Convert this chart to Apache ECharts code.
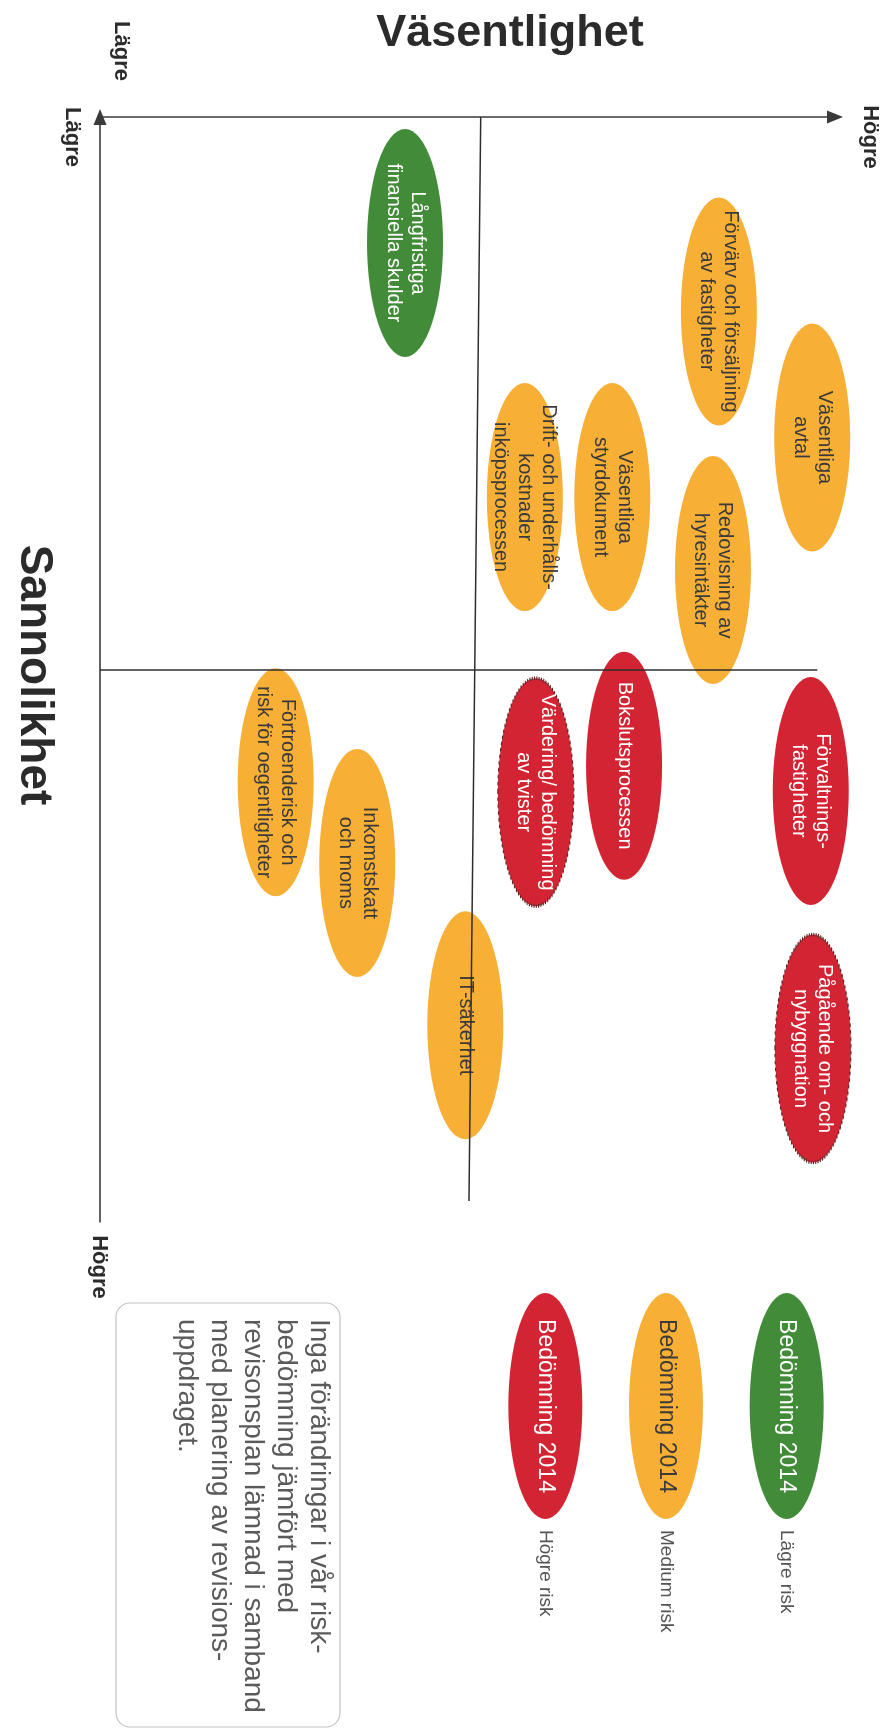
<!DOCTYPE html>
<html><head><meta charset="utf-8">
<script src="https://cdn.jsdelivr.net/npm/echarts@6/dist/echarts.min.js"></script>
<style>html,body{margin:0;padding:0;background:#fff}#c{width:892px;height:1730px}</style>
</head><body><div id="c"></div>
<script>
// ---- data ----
const riskNames = [
  'Långfristiga\nfinansiella skulder',
  'Förvärv och försäljning\nav fastigheter',
  'Väsentliga\navtal',
  'Redovisning av\nhyresintäkter',
  'Väsentliga\nstyrdokument',
  'Drift- och underhålls-\nkostnader\ninköpsprocessen',
  'Bokslutsprocessen',
  'Värdering/ bedömning\nav tvister',
  'Förvaltnings-\nfastigheter',
  'Pågående om- och\nnybyggnation',
  'Förtroenderisk och\nrisk för oegentligheter',
  'Inkomstskatt\noch moms',
  'IT-säkerhet'
];
const vasentlighet = [4.15, 8.42, 9.69, 8.34, 6.97, 5.78, 7.13, 5.93, 9.67, 9.70, 2.39, 3.50, 4.97];
const sannolikhet  = [1.14, 1.76, 2.90, 4.10, 3.44, 3.44, 5.87, 6.11, 6.10, 8.43, 6.02, 6.75, 8.22];
const riskLevel    = ['low','medium','medium','medium','medium','medium','high','high','high','high','medium','medium','medium'];
const dottedBorder = [false,false,false,false,false,false,false,true,false,true,false,false,false];
const vasentlighetSplit = [5.18, 5.02];
const sannolikhetSplit = 5.0;
const legendCategories = ['Högre risk', 'Medium risk', 'Lägre risk'];
const legendLevels = ['high', 'medium', 'low'];
const legendText = 'Bedömning 2014';
const axisLow = 'Lägre', axisHigh = 'Högre';
const xTitle = 'Väsentlighet', yTitle = 'Sannolikhet';
const noteLines = [
  'Inga förändringar i vår risk-',
  'bedömning jämfört med',
  'revisonsplan lämnad i samband',
  'med planering av revisions-',
  'uppdraget.'
];

// ---- styles ----
const COLORS = { low: '#428b38', medium: '#f7af36', high: '#d32433' };
const TEXT_ON = { low: '#ffffff', medium: '#3a3a3a', high: '#ffffff' };
const ELLIPSE = 'path://M0,50A50,50,0,1,1,100,50A50,50,0,1,1,0,50Z';
const FONT = '"Liberation Sans", Arial, sans-serif';
const AXIS_COLOR = '#3a3a3a';

const chart = echarts.init(document.getElementById('c'), null, { renderer: 'canvas' });

const pointData = riskNames.map((n, i) => ({
  name: n,
  value: [vasentlighet[i], sannolikhet[i]],
  itemStyle: dottedBorder[i]
    ? { color: COLORS[riskLevel[i]], opacity: 1, borderColor: '#5a2a2a', borderWidth: 2, borderType: 'dotted' }
    : { color: COLORS[riskLevel[i]], opacity: 1 },
  label: { color: TEXT_ON[riskLevel[i]] }
}));

const legendData = legendCategories.map((c, i) => ({
  name: legendText,
  value: [c, 0.5],
  itemStyle: { color: COLORS[legendLevels[i]], opacity: 1 },
  label: { color: TEXT_ON[legendLevels[i]] }
}));

const rotText = (x, y, text, font, fill, align) => ({
  type: 'text', x: x, y: y, rotation: -Math.PI / 2, silent: true,
  style: { text: text, font: font, fill: fill, align: align || 'center', verticalAlign: 'middle' }
});

chart.setOption({
  animation: false,
  backgroundColor: '#ffffff',
  grid: [
    { left: 100, top: 117, width: 735, height: 1105 },
    { left: 485, top: 1290, width: 362, height: 232 }
  ],
  xAxis: [
    {
      gridIndex: 0, type: 'value', position: 'top', min: 0, max: 10,
      axisLine: { show: true, onZero: false, symbol: ['none', 'triangle'], symbolSize: [13, 16], lineStyle: { color: AXIS_COLOR, width: 1.6 } },
      axisTick: { show: false }, axisLabel: { show: false }, splitLine: { show: false }
    },
    {
      gridIndex: 1, type: 'category', data: legendCategories, position: 'bottom',
      axisLine: { show: false }, axisTick: { show: false }, splitLine: { show: false },
      axisLabel: { rotate: -90, margin: 8, fontSize: 19, color: '#555555', fontFamily: FONT }
    }
  ],
  yAxis: [
    {
      gridIndex: 0, type: 'value', inverse: true, min: 0, max: 10,
      axisLine: { show: true, onZero: false, symbol: ['none', 'triangle'], symbolSize: [13, 16], lineStyle: { color: AXIS_COLOR, width: 1.6 } },
      axisTick: { show: false }, axisLabel: { show: false }, splitLine: { show: false }
    },
    { gridIndex: 1, type: 'value', min: 0, max: 1, show: false }
  ],
  series: [
    {
      type: 'scatter', xAxisIndex: 0, yAxisIndex: 0, data: [], z: 1, silent: true,
      markLine: {
        silent: true, symbol: 'none', animation: false,
        label: { show: false },
        lineStyle: { color: '#2e2e2e', width: 1.5, type: 'solid' },
        data: [
          [{ coord: [vasentlighetSplit[0], 0] }, { coord: [vasentlighetSplit[1], 9.81] }],
          [{ coord: [0, sannolikhetSplit] }, { coord: [9.76, sannolikhetSplit] }]
        ]
      }
    },
    {
      type: 'scatter', xAxisIndex: 0, yAxisIndex: 0, clip: false, z: 3, silent: true,
      symbol: ELLIPSE, symbolSize: [76, 228],
      data: pointData,
      label: {
        show: true, position: 'inside', rotate: -90, formatter: '{b}',
        fontSize: 20, lineHeight: 24, fontFamily: FONT, align: 'center', verticalAlign: 'middle'
      },
      emphasis: { disabled: true }
    },
    {
      type: 'scatter', xAxisIndex: 1, yAxisIndex: 1, clip: false, z: 3, silent: true,
      symbol: ELLIPSE, symbolSize: [74, 226],
      data: legendData,
      label: {
        show: true, position: 'inside', rotate: -90, formatter: '{b}',
        fontSize: 23, fontFamily: FONT, align: 'center', verticalAlign: 'middle'
      },
      emphasis: { disabled: true }
    }
  ],
  graphic: [
    { type: 'text', x: 510, y: 34, silent: true,
      style: { text: xTitle, font: 'bold 45px ' + FONT, fill: '#2b2b2b', align: 'center', verticalAlign: 'middle' } },
    rotText(34, 675, yTitle, 'bold 46px ' + FONT, '#2b2b2b'),
    rotText(121, 51, axisLow, 'bold 22px ' + FONT, '#2b2b2b'),
    rotText(72, 137, axisLow, 'bold 22px ' + FONT, '#2b2b2b'),
    rotText(870, 137, axisHigh, 'bold 22px ' + FONT, '#2b2b2b'),
    rotText(99, 1267, axisHigh, 'bold 22px ' + FONT, '#2b2b2b'),
    { type: 'rect', silent: true, shape: { x: 116, y: 1303, width: 224, height: 424, r: 14 },
      style: { fill: 'none', stroke: '#c4c4c4', lineWidth: 1.2 } },
    { type: 'text', x: 335, y: 1319, rotation: -Math.PI / 2, silent: true,
      style: { text: noteLines.join('\n'), font: '28px ' + FONT, fill: '#5a5a5a', lineHeight: 33, align: 'left', verticalAlign: 'top' } }
  ]
});
</script>
</body></html>
